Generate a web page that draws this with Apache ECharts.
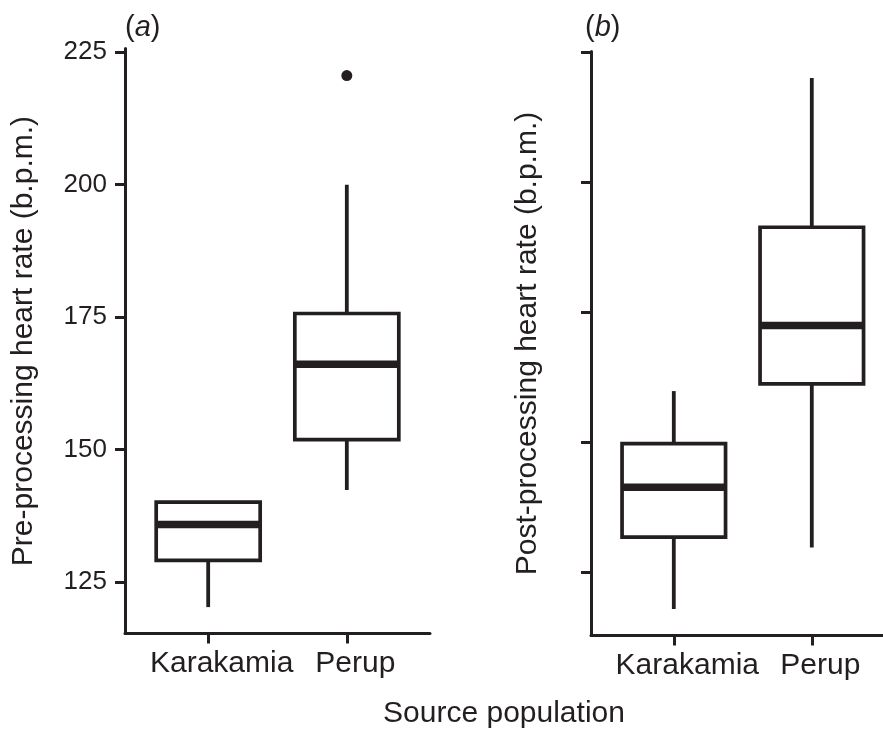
<!DOCTYPE html>
<html>
<head>
<meta charset="utf-8">
<script src="https://cdn.jsdelivr.net/npm/echarts@6/dist/echarts.min.js"></script>
<style>
html,body{margin:0;padding:0;background:#fff;}
#chart{width:883px;height:738px;}
</style>
</head>
<body>
<div id="chart"></div>
<script>
// ---- data ----
const categories = ['Karakamia', 'Perup'];
const yTicks = [125, 150, 175, 200, 225];
// panel (a): pre-processing heart rate
const preLow    = [120.3, 142.4];
const preQ1     = [129.1, 151.9];
const preMedian = [135.9, 166.1];
const preQ3     = [140.1, 175.7];
const preHigh   = [140.1, 200.0];
const preOutlierCat = [2];
const preOutlierVal = [220.6];
// panel (b): post-processing heart rate
const postLow    = [117.9, 129.7];
const postQ1     = [131.7, 161.2];
const postMedian = [141.3, 172.4];
const postQ3     = [149.7, 191.3];
const postHigh   = [159.8, 220.0];

const INK = '#231f20';
const FONT = '"Liberation Sans", Arial, Helvetica, sans-serif';

function boxData(low, q1, med, q3, high) {
  return categories.map((c, i) => [i + 1, low[i], q1[i], med[i], q3[i], high[i]]);
}

function renderBox(params, api) {
  const x = api.value(0);
  const low = api.value(1), q1 = api.value(2), med = api.value(3), q3 = api.value(4), high = api.value(5);
  const hw = 0.375;
  const c = api.coord([x, med]);
  const pHigh = api.coord([x, high]);
  const pLow = api.coord([x, low]);
  const tl = api.coord([x - hw, q3]);
  const br = api.coord([x + hw, q1]);
  const ml = api.coord([x - hw, med]);
  const mr = api.coord([x + hw, med]);
  const st = { stroke: INK, lineWidth: 3.8, fill: null };
  return {
    type: 'group',
    children: [
      { type: 'line', shape: { x1: c[0], y1: pHigh[1], x2: c[0], y2: tl[1] }, style: st },
      { type: 'line', shape: { x1: c[0], y1: br[1], x2: c[0], y2: pLow[1] }, style: st },
      { type: 'rect', shape: { x: tl[0], y: tl[1], width: br[0] - tl[0], height: br[1] - tl[1] },
        style: { stroke: INK, lineWidth: 3.7, fill: '#fff' } },
      { type: 'line', shape: { x1: ml[0], y1: ml[1], x2: mr[0], y2: mr[1] },
        style: { stroke: INK, lineWidth: 7.5 } }
    ]
  };
}

function xAxisCfg(gi) {
  return {
    type: 'value', gridIndex: gi, min: 0.4, max: 2.6,
    axisLine: { show: true, onZero: false, lineStyle: { color: INK, width: 3 } },
    axisTick: { show: true, customValues: [1, 2], length: 10, lineStyle: { color: INK, width: 3 } },
    axisLabel: { show: true, customValues: [1, 2],
      formatter: v => { const i = Math.round(v) - 1; return i === 0 ? '{k|' + categories[0] + '}' : '{p|' + categories[1] + '}'; },
      fontSize: 30, color: INK, fontFamily: FONT, margin: 15,
      rich: {
        k: { fontSize: 30, color: INK, fontFamily: FONT, padding: [0, 0, 0, 27] },
        p: { fontSize: 30, color: INK, fontFamily: FONT, padding: [0, 0, 0, 17] }
      } },
    splitLine: { show: false }
  };
}

function yAxisCfg(gi, min, max, name, showLabels, gap) {
  return {
    type: 'value', gridIndex: gi, min: min, max: max,
    name: name, nameLocation: 'middle', nameGap: gap,
    nameTextStyle: { fontSize: 30, color: INK, fontFamily: FONT },
    axisLine: { show: true, onZero: false, lineStyle: { color: INK, width: 3 } },
    axisTick: { show: true, customValues: yTicks, length: 10, lineStyle: { color: INK, width: 3 } },
    axisLabel: { show: showLabels, customValues: yTicks, fontSize: 26, color: INK, fontFamily: FONT, margin: 18 },
    splitLine: { show: false }
  };
}

const chart = echarts.init(document.getElementById('chart'), null, { renderer: 'canvas' });
chart.setOption({
  backgroundColor: '#fff',
  animation: false,
  grid: [
    { left: 125, top: 48.5, width: 305, height: 585.1, containLabel: false, outerBoundsMode: 'none' },
    { left: 591, top: 51.5, width: 303.6, height: 584, containLabel: false, outerBoundsMode: 'none' }
  ],
  xAxis: [xAxisCfg(0), xAxisCfg(1)],
  yAxis: [
    yAxisCfg(0, 115.3, 225.7, 'Pre-processing heart rate (b.p.m.)', true, 86),
    yAxisCfg(1, 112.8, 225.1, 'Post-processing heart rate (b.p.m.)', false, 48)
  ],
  series: [
    { type: 'custom', xAxisIndex: 0, yAxisIndex: 0, renderItem: renderBox,
      encode: { x: 0, y: [1, 2, 3, 4, 5] },
      data: boxData(preLow, preQ1, preMedian, preQ3, preHigh) },
    { type: 'scatter', xAxisIndex: 0, yAxisIndex: 0, symbol: 'circle', symbolSize: 11,
      itemStyle: { color: INK, opacity: 1 },
      data: preOutlierCat.map((c, i) => [c, preOutlierVal[i]]) },
    { type: 'custom', xAxisIndex: 1, yAxisIndex: 1, renderItem: renderBox,
      encode: { x: 0, y: [1, 2, 3, 4, 5] },
      data: boxData(postLow, postQ1, postMedian, postQ3, postHigh) }
  ],
  graphic: [
    { type: 'text', left: 125, top: 13,
      style: { text: '{p|(}{i|a}{p|)}', rich: {
        p: { fontSize: 29, fontFamily: FONT, fill: INK },
        i: { fontSize: 29, fontFamily: FONT, fontStyle: 'italic', fill: INK } } } },
    { type: 'text', left: 585, top: 13,
      style: { text: '{p|(}{i|b}{p|)}', rich: {
        p: { fontSize: 29, fontFamily: FONT, fill: INK },
        i: { fontSize: 29, fontFamily: FONT, fontStyle: 'italic', fill: INK } } } },
    { type: 'text', x: 504, y: 714,
      style: { text: 'Source population', fontSize: 30, fontFamily: FONT, fill: INK,
        align: 'center', verticalAlign: 'middle' } }
  ]
});
</script>
</body>
</html>
